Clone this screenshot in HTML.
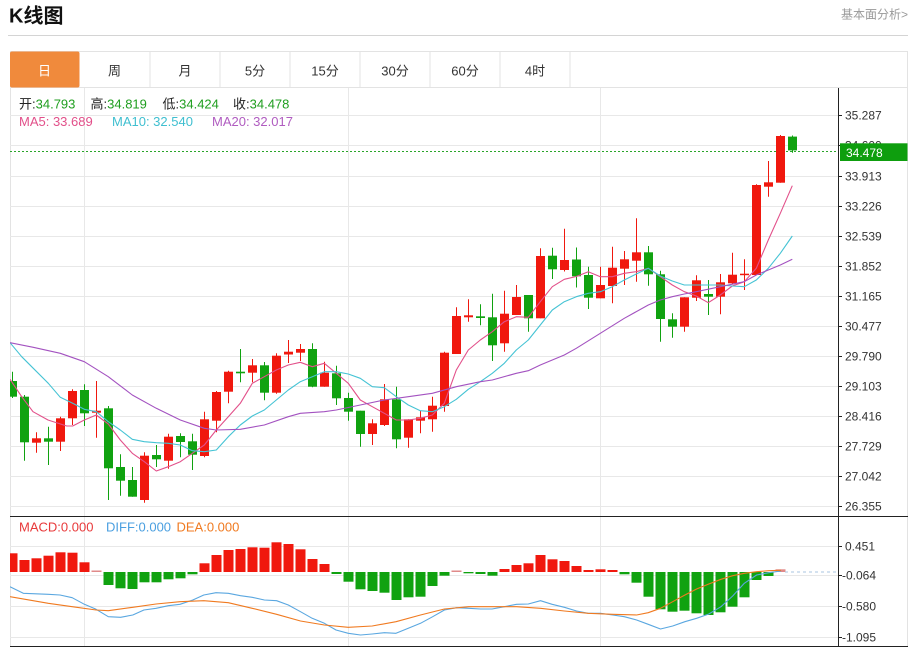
<!DOCTYPE html>
<html><head><meta charset="utf-8"><style>
html,body{margin:0;padding:0;background:#fff;}
svg{display:block;font-family:"Liberation Sans","Noto Sans CJK SC",sans-serif;}
</style></head><body>
<svg width="913" height="647" viewBox="0 0 913 647" xmlns="http://www.w3.org/2000/svg">
<defs><clipPath id="cp"><rect x="10" y="88" width="828" height="558"/></clipPath></defs>
<rect width="913" height="647" fill="#fff"/>
<!-- header -->
<text x="9" y="22.7" font-size="20" font-weight="bold" fill="#111">K线图</text>
<text x="908" y="18.5" font-size="12" fill="#999" text-anchor="end">基本面分析&gt;</text>
<line x1="8" y1="35.5" x2="908" y2="35.5" stroke="#d4d4d4" stroke-width="1"/>
<!-- tabs -->
<rect x="10.5" y="51.5" width="897" height="36" fill="#fff" stroke="#e3e3e3"/>
<rect x="10" y="51.5" width="69.5" height="36" rx="2" fill="#f08a3c"/>
<g stroke="#e3e3e3">
<line x1="150" y1="52" x2="150" y2="87"/><line x1="220" y1="52" x2="220" y2="87"/><line x1="290" y1="52" x2="290" y2="87"/><line x1="360" y1="52" x2="360" y2="87"/><line x1="430" y1="52" x2="430" y2="87"/><line x1="500" y1="52" x2="500" y2="87"/><line x1="570" y1="52" x2="570" y2="87"/>
</g>
<g font-size="13" text-anchor="middle" fill="#333">
<text x="44.5" y="75.5" fill="#fff">日</text><text x="114.5" y="75.5">周</text><text x="185" y="75.5">月</text><text x="255" y="75.5">5分</text><text x="325" y="75.5">15分</text><text x="395" y="75.5">30分</text><text x="465" y="75.5">60分</text><text x="535" y="75.5">4时</text>
</g>
<!-- container borders -->
<line x1="10.5" y1="87" x2="10.5" y2="647" stroke="#e3e3e3"/>
<line x1="907.5" y1="87" x2="907.5" y2="647" stroke="#e3e3e3"/>
<!-- grid -->
<g stroke="#e8e8e8" stroke-width="1">
<line x1="84.5" y1="88" x2="84.5" y2="646"/><line x1="348.5" y1="88" x2="348.5" y2="646"/><line x1="600.5" y1="88" x2="600.5" y2="646"/>
<line x1="10" y1="115.5" x2="838" y2="115.5"/><line x1="10" y1="145.5" x2="838" y2="145.5"/><line x1="10" y1="176.5" x2="838" y2="176.5"/><line x1="10" y1="206.5" x2="838" y2="206.5"/><line x1="10" y1="236.5" x2="838" y2="236.5"/><line x1="10" y1="266.5" x2="838" y2="266.5"/><line x1="10" y1="296.5" x2="838" y2="296.5"/><line x1="10" y1="326.5" x2="838" y2="326.5"/><line x1="10" y1="356.5" x2="838" y2="356.5"/><line x1="10" y1="386.5" x2="838" y2="386.5"/><line x1="10" y1="416.5" x2="838" y2="416.5"/><line x1="10" y1="446.5" x2="838" y2="446.5"/><line x1="10" y1="476.5" x2="838" y2="476.5"/><line x1="10" y1="506.5" x2="838" y2="506.5"/>
<line x1="10" y1="546.5" x2="838" y2="546.5"/><line x1="10" y1="575.5" x2="838" y2="575.5"/><line x1="10" y1="606.5" x2="838" y2="606.5"/><line x1="10" y1="637.5" x2="838" y2="637.5"/>
</g>
<!-- info text -->
<g font-size="13">
<text x="19" y="108.5" fill="#222">开:<tspan fill="#1f9e1f">34.793</tspan></text>
<text x="90.5" y="108.5" fill="#222">高:<tspan fill="#1f9e1f">34.819</tspan></text>
<text x="162.5" y="108.5" fill="#222">低:<tspan fill="#1f9e1f">34.424</tspan></text>
<text x="233" y="108.5" fill="#222">收:<tspan fill="#1f9e1f">34.478</tspan></text>
<text x="19" y="126" fill="#e2508a">MA5: 33.689</text>
<text x="112" y="126" fill="#3fbfd0">MA10: 32.540</text>
<text x="212" y="126" fill="#b05cc0">MA20: 32.017</text>
<text x="19" y="531.5" fill="#e8393a">MACD:0.000</text>
<text x="106" y="531.5" fill="#4a9fe0">DIFF:0.000</text>
<text x="176.5" y="531.5" fill="#f07a20">DEA:0.000</text>
</g>
<g clip-path="url(#cp)">
<!-- last price dotted -->
<line x1="10" y1="151.5" x2="838" y2="151.5" stroke="#2aa52a" stroke-dasharray="2,2"/>
<!-- candles red -->
<g stroke="#f0180e" stroke-width="1">
<path d="M36.5 432.3V452.7M60.5 416.7V451M72.5 389.3V425M96.5 381V437.7M144.5 452.3V502.7M168.5 433.7V468.7M204.5 411.7V457.3M216.5 391V432.3M228.5 370.7V403.3M252.5 359V382.3M276.5 353.3V393.7M288.5 340V363M300.5 344V361M324.5 361.7V386.7M372.5 419.3V445M384.5 384V426M408.5 419.3V447.7M420.5 411V433.3M432.5 396.7V431.7M444.5 351.7V411.7M456.5 307.3V354M468.5 299.3V321.7M504.5 290.7V351.7M516.5 285V315M540.5 248.3V318.3M564.5 228.7V271.5M600.5 266.7V298.3M612.5 246.7V303.3M624.5 251V285M636.5 218.3V281.7M684.5 297.3V331.7M696.5 275.3V301M720.5 274V314.3M732.5 252.7V284M744.5 259.3V290M756.5 184.3V275M768.5 161V196.7M780.5 135V182.7"/>
</g>
<g fill="#f0180e">
<rect x="32" y="438.3" width="9" height="4.4"/><rect x="56" y="418.3" width="9" height="23.4"/><rect x="68" y="391" width="9" height="27.3"/><rect x="92" y="410.7" width="9" height="2"/><rect x="140" y="455.7" width="9" height="44.3"/><rect x="164" y="436.7" width="9" height="24"/><rect x="200" y="419.3" width="9" height="36.7"/><rect x="212" y="392" width="9" height="28.7"/><rect x="224" y="371.7" width="9" height="20"/><rect x="248" y="365.3" width="9" height="7.4"/><rect x="272" y="355.7" width="9" height="37"/><rect x="284" y="351.7" width="9" height="2.8"/><rect x="296" y="349" width="9" height="3.7"/><rect x="320" y="372.7" width="9" height="14"/><rect x="368" y="423.3" width="9" height="10.7"/><rect x="380" y="399.3" width="9" height="25.7"/><rect x="404" y="419.3" width="9" height="18.4"/><rect x="416" y="417.3" width="9" height="3.4"/><rect x="428" y="405.7" width="9" height="13.6"/><rect x="440" y="352.7" width="9" height="53.3"/><rect x="452" y="316" width="9" height="38"/><rect x="464" y="315.3" width="9" height="2"/><rect x="500" y="313.7" width="9" height="29.6"/><rect x="512" y="297" width="9" height="18"/><rect x="536" y="256" width="9" height="62.3"/><rect x="560" y="260" width="9" height="10"/><rect x="596" y="285" width="9" height="13.3"/><rect x="608" y="267.7" width="9" height="18.3"/><rect x="620" y="259.3" width="9" height="9.4"/><rect x="632" y="252.3" width="9" height="8.4"/><rect x="680" y="297.3" width="9" height="29.4"/><rect x="692" y="280.3" width="9" height="17.4"/><rect x="716" y="282.3" width="9" height="14.4"/><rect x="728" y="274.7" width="9" height="8.6"/><rect x="740" y="273.7" width="9" height="1.5"/><rect x="752" y="185" width="9" height="90"/><rect x="764" y="182.3" width="9" height="4.4"/><rect x="776" y="136" width="9" height="46.7"/>
</g>
<!-- candles green -->
<g stroke="#10a210" stroke-width="1">
<path d="M12.5 371.7V398M24.5 395V460.7M48.5 426.7V465M84.5 384.3V426M108.5 406V500M120.5 454.3V495.7M132.5 467V496.7M156.5 445V467M180.5 433.3V457.3M192.5 433.7V470M240.5 349V382.3M264.5 362V400.3M312.5 343.3V387.3M336.5 365.7V405M348.5 392.7V420.7M360.5 410.7V446.7M396.5 386.7V448.3M480.5 304.3V325.3M492.5 293.7V361M528.5 295V331.7M552.5 247.7V279M576.5 247.5V287.5M588.5 266.7V309M648.5 246V285.7M660.5 270.7V341.7M672.5 313.3V337.7M708.5 280V315M792.5 135.5V152.8"/>
</g>
<g fill="#10a210">
<rect x="8" y="381" width="9" height="15.7"/><rect x="20" y="396.7" width="9" height="45.6"/><rect x="44" y="438.3" width="9" height="3.4"/><rect x="80" y="390" width="9" height="23.3"/><rect x="104" y="408.3" width="9" height="60"/><rect x="116" y="467" width="9" height="13.7"/><rect x="128" y="480" width="9" height="16.7"/><rect x="152" y="455" width="9" height="4.3"/><rect x="176" y="436" width="9" height="6"/><rect x="188" y="441.3" width="9" height="13.4"/><rect x="236" y="371.7" width="9" height="1.6"/><rect x="260" y="365.3" width="9" height="27.4"/><rect x="308" y="349" width="9" height="37.7"/><rect x="332" y="373.3" width="9" height="25"/><rect x="344" y="398" width="9" height="13.7"/><rect x="356" y="410.7" width="9" height="23.3"/><rect x="392" y="399.3" width="9" height="40"/><rect x="476" y="316.3" width="9" height="1.7"/><rect x="488" y="317.3" width="9" height="28"/><rect x="524" y="295" width="9" height="23.3"/><rect x="548" y="255.7" width="9" height="13.6"/><rect x="572" y="259.5" width="9" height="16.8"/><rect x="584" y="275" width="9" height="22.7"/><rect x="644" y="252.3" width="9" height="22"/><rect x="656" y="274.3" width="9" height="44.7"/><rect x="668" y="319.3" width="9" height="7.4"/><rect x="704" y="294" width="9" height="2.7"/><rect x="788" y="136.6" width="9" height="13.8"/>
</g>
<!-- MA lines -->
<g fill="none" stroke-width="1.1" stroke-linejoin="round">
<polyline stroke="#e2508a" points="10,379.3 21.7,396.7 33,411.7 48,420 66.7,426 72.7,426 84.3,420 96.3,415 108.3,424 120.3,440 132.3,453.3 144.3,461.7 156.3,471 168.3,466.7 180.3,461.7 192.3,453.3 204.3,445 216.3,430 228.3,416.7 240.3,403.3 252.3,383.3 264.3,376.7 276.3,370 288.3,365 300.3,362.3 312.3,366.7 324.3,363.3 336.3,373.3 348.3,383.3 360.3,400 372.3,406.7 384.3,413.3 396.3,420 408.3,420 420.3,418.3 432.3,415 444.3,403.3 456.3,370 468.3,350 480.3,340 492.3,331.7 504.3,321.7 516.3,316.7 528.3,317.3 540.3,301.7 552.3,286.7 564.3,279.3 576.3,276.5 588.3,271.7 600.3,276.7 612.3,276.7 624.3,273.3 636.3,271.7 648.3,268.3 660.3,276.7 672.3,285 684.3,291.7 696.3,296 708.3,302.7 720.3,295 732.3,286 744.3,281.7 756.3,268.3 768.3,240 780.3,213.3 792.3,185.7"/>
<polyline stroke="#45c3d4" points="10,342.7 21.7,356.7 33.3,368.3 48.3,383.3 60.3,397.3 72.7,403.3 84.3,409.3 96.3,411.7 108.3,421.7 120.3,430 132.3,439.3 144.3,441.7 156.3,442.7 168.3,443.3 180.3,445 192.3,450.7 204.3,451.7 216.3,450 228.3,436.7 240.3,425 252.3,416 264.3,410 276.3,400 288.3,390 300.3,381.7 312.3,376.7 324.3,371.7 336.3,371.7 348.3,374 360.3,378.3 372.3,386.7 384.3,387.7 396.3,396.7 408.3,405 420.3,410.7 432.3,411.7 444.3,406.7 456.3,399.3 468.3,389.3 480.3,381.7 492.3,373.3 504.3,363.3 516.3,350 528.3,340 540.3,325 552.3,310 564.3,301.7 576.3,296.7 588.3,293.3 600.3,291.7 612.3,286.7 624.3,280 636.3,274 648.3,268.3 660.3,276 672.3,281 684.3,285 696.3,285 708.3,285 720.3,285 732.3,286 744.3,286.7 756.3,280 768.3,268.3 780.3,253.3 792.3,236"/>
<polyline stroke="#a352c0" points="10,342.7 33.3,347.3 60.3,353.3 84.3,361.7 108.3,376.7 132.3,395 156.3,408.3 180.3,420 204.3,428.3 216.3,430 240.3,429.3 264.3,425 288.3,416.7 300.3,413.3 324.3,411.7 336.3,410 360.3,405 384.3,400 408.3,396.7 432.3,393.3 456.3,386.7 480.3,381.7 492.3,380 516.3,373.3 528.3,370.7 540.3,365 564.3,355 576.3,348.3 600.3,333.3 624.3,318.3 648.3,305 660.3,300 672.3,296.7 684.3,294 696.3,291.7 720.3,286.7 744.3,281.7 756.3,275 768.3,270 780.3,265 792.3,259.3"/>
</g>
<!-- MACD bars -->
<g fill="#f0180e">
<rect x="7.5" y="553.3" width="10" height="18.7"/><rect x="19.5" y="560" width="10" height="12"/><rect x="31.5" y="558.3" width="10" height="13.7"/><rect x="43.5" y="555.7" width="10" height="16.3"/><rect x="55.5" y="552.3" width="10" height="19.7"/><rect x="67.5" y="552.7" width="10" height="19.3"/><rect x="79.5" y="562.3" width="10" height="9.7"/>
<rect x="199.5" y="563.3" width="10" height="8.7"/><rect x="211.5" y="555" width="10" height="17"/><rect x="223.5" y="550" width="10" height="22"/><rect x="235.5" y="549" width="10" height="23"/><rect x="247.5" y="547.3" width="10" height="24.7"/><rect x="259.5" y="547.7" width="10" height="24.3"/><rect x="271.5" y="542.3" width="10" height="29.7"/><rect x="283.5" y="544" width="10" height="28"/><rect x="295.5" y="549.3" width="10" height="22.7"/><rect x="307.5" y="559" width="10" height="13"/><rect x="319.5" y="564" width="10" height="8"/>
<rect x="499.5" y="569" width="10" height="3"/><rect x="511.5" y="565" width="10" height="7"/><rect x="523.5" y="563.3" width="10" height="8.7"/><rect x="535.5" y="555" width="10" height="17"/><rect x="547.5" y="559.3" width="10" height="12.7"/><rect x="559.5" y="561" width="10" height="11"/><rect x="571.5" y="566" width="10" height="6"/><rect x="583.5" y="570" width="10" height="2"/><rect x="595.5" y="569.3" width="10" height="2.7"/><rect x="607.5" y="570" width="10" height="2"/>
</g>
<g fill="#e08a8a">
<rect x="91.5" y="570.5" width="10" height="1.5"/><rect x="451.5" y="570.5" width="10" height="1.5"/><rect x="775.5" y="569.3" width="10" height="2.7"/>
</g>
<g fill="#10a210">
<rect x="103.5" y="572" width="10" height="13"/><rect x="115.5" y="572" width="10" height="16.3"/><rect x="127.5" y="572" width="10" height="17"/><rect x="139.5" y="572" width="10" height="10.3"/><rect x="151.5" y="572" width="10" height="10.3"/><rect x="163.5" y="572" width="10" height="7.3"/><rect x="175.5" y="572" width="10" height="6.3"/><rect x="187.5" y="572" width="10" height="2.3"/>
<rect x="331.5" y="572" width="10" height="2"/><rect x="343.5" y="572" width="10" height="9.7"/><rect x="355.5" y="572" width="10" height="17.3"/><rect x="367.5" y="572" width="10" height="19"/><rect x="379.5" y="572" width="10" height="20.7"/><rect x="391.5" y="572" width="10" height="28"/><rect x="403.5" y="572" width="10" height="25.3"/><rect x="415.5" y="572" width="10" height="24.7"/><rect x="427.5" y="572" width="10" height="14"/><rect x="439.5" y="572" width="10" height="3.7"/>
<rect x="463.5" y="572" width="10" height="1.3"/><rect x="475.5" y="572" width="10" height="2"/><rect x="487.5" y="572" width="10" height="3.7"/>
<rect x="619.5" y="572" width="10" height="2.3"/><rect x="631.5" y="572" width="10" height="10.7"/><rect x="643.5" y="572" width="10" height="24.7"/><rect x="655.5" y="572" width="10" height="37.3"/><rect x="667.5" y="572" width="10" height="39.7"/><rect x="679.5" y="572" width="10" height="38.7"/><rect x="691.5" y="572" width="10" height="41.3"/><rect x="703.5" y="572" width="10" height="43"/><rect x="715.5" y="572" width="10" height="40.3"/><rect x="727.5" y="572" width="10" height="34.7"/><rect x="739.5" y="572" width="10" height="25.3"/><rect x="751.5" y="572" width="10" height="8"/><rect x="763.5" y="572" width="10" height="4"/>
</g>
<line x1="785" y1="572" x2="838" y2="572" stroke="#a8c4e0" stroke-dasharray="3,3"/>
<!-- DIFF / DEA -->
<g fill="none" stroke-width="1.1" stroke-linejoin="round">
<polyline stroke="#5aa7e0" points="10,586.7 23.3,593.3 48.3,594.3 60,595 72.2,597.7 84.4,604.3 96.1,609.3 108.3,616.7 120.6,617.3 132.8,615 143.9,610 156.1,608.3 168.3,605.7 180,604.3 192.8,600 203.8,595 216,592.7 228.3,593.3 240.5,595.7 252.2,597.3 264.4,600 276.6,600.7 288.3,605 300.5,611.7 312.2,618.3 324.4,623.3 336,630 348.3,633.3 360.5,635 372.2,634 384.4,632.7 396,633.3 408.3,628.3 420.5,623.3 432.7,616.7 444.4,610 456.6,607.7 468.8,608.3 480.5,609 492.1,609 504.4,606.7 516.6,604.3 528.3,604 540.5,600.7 552.1,604.3 564.4,607.3 576.6,611 588.2,613.3 600.5,613.3 612.7,615 624.3,616.7 636.6,620 648.2,624.3 660.5,629 672.7,626 684.9,621.7 696.6,618.3 708.8,614 721,606.7 732.7,596 744.3,583.3 756.6,575 768.8,572.7 781,571"/>
<polyline stroke="#f07a20" points="10,596.7 48.3,603.3 72.2,606.7 96.1,610 108.3,610.7 132.8,607.3 156.1,604 180,601.7 203.8,600.7 228.3,602.7 252.2,608.3 276.6,614.3 300.5,621 324.4,625 348.3,627.3 372.2,626 396,621.7 420.5,615 444.4,609 468.8,606.7 492.1,606.7 516.6,606.7 540.5,608.3 564.4,611 588.2,613.3 612.7,614.3 636.6,615 648.2,612.7 660.5,608.3 672.7,601.7 684.9,595 696.6,589 708.8,584 721,579.3 732.7,575.7 744.3,573.3 756.6,571.7 768.8,570.7 781,570.3"/>
</g>
</g>
<!-- axes -->
<line x1="838.5" y1="88" x2="838.5" y2="646" stroke="#222"/>
<line x1="10" y1="516.5" x2="908" y2="516.5" stroke="#222"/>
<line x1="10" y1="646.5" x2="908" y2="646.5" stroke="#222"/>
<g stroke="#222">
<line x1="838" y1="115.5" x2="842" y2="115.5"/><line x1="838" y1="145.5" x2="842" y2="145.5"/><line x1="838" y1="176.5" x2="842" y2="176.5"/><line x1="838" y1="206.5" x2="842" y2="206.5"/><line x1="838" y1="236.5" x2="842" y2="236.5"/><line x1="838" y1="266.5" x2="842" y2="266.5"/><line x1="838" y1="296.5" x2="842" y2="296.5"/><line x1="838" y1="326.5" x2="842" y2="326.5"/><line x1="838" y1="356.5" x2="842" y2="356.5"/><line x1="838" y1="386.5" x2="842" y2="386.5"/><line x1="838" y1="416.5" x2="842" y2="416.5"/><line x1="838" y1="446.5" x2="842" y2="446.5"/><line x1="838" y1="476.5" x2="842" y2="476.5"/><line x1="838" y1="506.5" x2="842" y2="506.5"/>
<line x1="838" y1="546.5" x2="842" y2="546.5"/><line x1="838" y1="575.5" x2="842" y2="575.5"/><line x1="838" y1="606.5" x2="842" y2="606.5"/><line x1="838" y1="637.5" x2="842" y2="637.5"/>
</g>
<g font-size="12" fill="#333">
<text x="845" y="119.5">35.287</text><text x="845" y="149.5">34.600</text><text x="845" y="180.5">33.913</text><text x="845" y="210.5">33.226</text><text x="845" y="240.5">32.539</text><text x="845" y="270.5">31.852</text><text x="845" y="300.5">31.165</text><text x="845" y="330.5">30.477</text><text x="845" y="360.5">29.790</text><text x="845" y="390.5">29.103</text><text x="845" y="420.5">28.416</text><text x="845" y="450.5">27.729</text><text x="845" y="480.5">27.042</text><text x="845" y="510.5">26.355</text>
<text x="845" y="550.5">0.451</text><text x="842" y="579.5">-0.064</text><text x="842" y="610.5">-0.580</text><text x="842" y="641.5">-1.095</text>
</g>
<rect x="840" y="143.3" width="67.5" height="17.7" fill="#0e9e0e"/>
<text x="846" y="157" font-size="12" fill="#fff">34.478</text>
</svg>
</body></html>
